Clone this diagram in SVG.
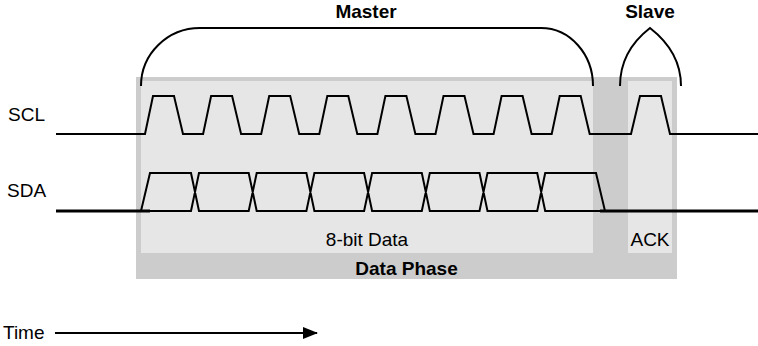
<svg xmlns="http://www.w3.org/2000/svg" width="758" height="346" viewBox="0 0 758 346">
<style>
text{font-family:"Liberation Sans",Arial,sans-serif;font-size:19px;fill:#000}
.b{font-weight:bold}
.w{fill:none;stroke:#000;stroke-width:2;stroke-linejoin:miter}
.base{fill:none;stroke:#000;stroke-width:3}
</style>
<defs>
<marker id="ah" viewBox="0 0 15 12" refX="14" refY="6" markerWidth="15" markerHeight="12" markerUnits="userSpaceOnUse" orient="auto">
<path d="M0,0 L15,6 L0,12 Z" fill="#000"/>
</marker>
</defs>
<g id="data-phase">
<rect x="136" y="77" width="541" height="202" fill="#cccccc"/>
<text class="b" x="406.5" y="275" text-anchor="middle">Data Phase</text>
</g>
<g id="bit-data">
<rect x="141" y="81" width="452" height="172" fill="#e6e6e6"/>
<text x="367" y="246" text-anchor="middle">8-bit Data</text>
</g>
<g id="ack">
<rect x="628" y="81" width="44" height="172" fill="#e6e6e6"/>
<text x="650" y="246" text-anchor="middle">ACK</text>
</g>
<g id="master">
<path class="w" d="M141,86 A59,58 0 0 1 200,28 H541 A52,58 0 0 1 593,86"/>
<text class="b" x="366" y="18" text-anchor="middle">Master</text>
</g>
<g id="slave">
<path class="w" d="M620,86 C620,60 632,42 650,28 C668,42 681,60 681,86"/>
<text class="b" x="650" y="18" text-anchor="middle">Slave</text>
</g>
<g id="scl">
<text x="8" y="121">SCL</text>
<path class="w" d="M56,134 H145 L153,96 H174 L183,134 H203.1 L211.1,96 H232.1 L241.1,134 H261.2 L269.2,96 H290.2 L299.2,134 H319.3 L327.3,96 H348.3 L357.3,134 H377.4 L385.4,96 H406.4 L415.4,134 H435.5 L443.5,96 H464.5 L473.5,134 H493.6 L501.6,96 H522.6 L531.6,134 H551.7 L559.7,96 H580.7 L589.7,134 H631 L640,96 H661 L670,134 H758"/>
</g>
<g id="sda">
<text x="7" y="197">SDA</text>
<path class="base" d="M56,211 H150"/>
<path class="base" d="M600,211 H758"/>
<path class="w" d="M141,211 L150,173 H191 L199,211 H248.7 L256.7,173 H306.4 L314.4,211 H364.1 L372.1,173 H421.8 L429.8,211 H479.5 L487.5,173 H537.2 L545.2,211 H605 L596,173 H545.2 L537.2,211 H487.5 L479.5,173 H429.8 L421.8,211 H372.1 L364.1,173 H314.4 L306.4,211 H256.7 L248.7,173 H199 L191,211 Z"/>
</g>
<g id="time">
<text x="3" y="339">Time</text>
</g>
<g id="connectors">
<line x1="55" y1="333" x2="317" y2="333" stroke="#000" stroke-width="2" marker-end="url(#ah)"/>
</g>
</svg>
